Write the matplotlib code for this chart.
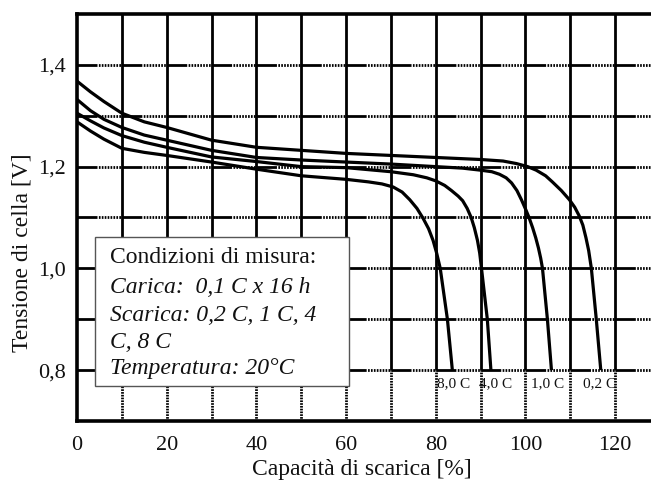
import matplotlib
matplotlib.use("Agg")
import matplotlib.pyplot as plt
from matplotlib.patches import Rectangle

plt.rcParams["font.family"] = ["Liberation Serif", "DejaVu Serif"]
plt.rcParams["lines.scale_dashes"] = False

# discharge curves: capacity [%] -> cell voltage [V]
cap_02 = [0, 3, 6, 10, 15, 20, 30, 40, 50, 60, 70, 80, 90, 95, 98, 100.5, 102.4,
          104.5, 106, 108, 109.8, 111, 112, 112.8, 113.5, 114.1, 114.7, 115.8, 116.8]
volt_02 = [1.368, 1.347, 1.328, 1.305, 1.288, 1.277, 1.252, 1.238, 1.232, 1.226, 1.222,
           1.218, 1.214, 1.211, 1.206, 1.200, 1.193, 1.182, 1.170, 1.153, 1.135, 1.120,
           1.103, 1.085, 1.060, 1.035, 1.000, 0.900, 0.800]

cap_10 = [0, 3, 6, 10, 15, 20, 30, 40, 50, 60, 70, 80, 86, 90, 92.5, 94.2, 95.7,
          96.9, 98.1, 99.1, 100, 100.8, 101.6, 102.3, 102.9, 103.4, 103.8, 104.9, 105.8]
volt_10 = [1.332, 1.310, 1.293, 1.277, 1.262, 1.252, 1.232, 1.218, 1.213, 1.209, 1.205,
           1.200, 1.197, 1.193, 1.190, 1.185, 1.178, 1.168, 1.153, 1.135, 1.117, 1.100,
           1.080, 1.060, 1.040, 1.020, 1.000, 0.900, 0.800]

cap_40 = [0, 3, 6, 10, 15, 20, 30, 40, 50, 60, 70, 75, 78, 80, 82, 83.5, 85,
          86, 87, 87.9, 88.6, 89.3, 89.8, 90.2, 91.5, 92.3]
volt_40 = [1.305, 1.290, 1.276, 1.261, 1.248, 1.238, 1.219, 1.210, 1.200, 1.198, 1.190,
           1.184, 1.178, 1.172, 1.163, 1.153, 1.142, 1.133, 1.118, 1.100, 1.080,
           1.055, 1.030, 1.000, 0.900, 0.800]

cap_80 = [0, 3, 6, 10, 15, 20, 30, 40, 50, 60, 65, 68, 70.5, 72.5, 74.2, 75.8,
          77.2, 78.4, 79.4, 80.2, 81.0, 82.6, 83.7]
volt_80 = [1.288, 1.270, 1.254, 1.236, 1.228, 1.222, 1.209, 1.195, 1.182, 1.175, 1.170,
           1.166, 1.160, 1.150, 1.135, 1.118, 1.098, 1.078, 1.055, 1.030, 1.000, 0.900, 0.800]

curve_labels = ["0,2 C", "1,0 C", "4,0 C", "8,0 C"]
label_x = [116.6, 104.9, 93.4, 83.9]

x_ticks = [0, 20, 40, 60, 80, 100, 120]
y_ticks = [0.8, 1.0, 1.2, 1.4]
y_tick_labels = ["0,8", "1,0", "1,2", "1,4"]
x_grid = [10, 20, 30, 40, 50, 60, 70, 80, 90, 100, 110, 120]
y_grid = [0.8, 0.9, 1.0, 1.1, 1.2, 1.3, 1.4]

box_lines = ["Condizioni di misura:", "Carica:  0,1 C x 16 h", "Scarica: 0,2 C, 1 C, 4",
             "C, 8 C", "Temperatura: 20°C"]

fig = plt.figure(figsize=(6.51, 4.83), dpi=100)
ax = fig.add_axes([0.1183, 0.1284, 0.8817, 0.8426])
ax.set_xlim(0, 128)
ax.set_ylim(0.7, 1.5)

# scanned-looking grid: solid pieces mixed with dotted ones
hdash = [14.4, 1.0] + [1.2, 0.9] * 8
hdash[-1] = 1.0
ax.hlines(y_grid, 0, 128, colors="black", linewidth=2.0,
          linestyles=[(0, hdash)], zorder=1)
ax.vlines(x_grid, 0.8, 1.5, colors="black", linewidth=2.0, zorder=1)
ax.vlines(x_grid, 0.7, 0.8, colors="black", linewidth=2.0,
          linestyles=[(0, (1.2, 0.8))], zorder=1)

for cx, cy in [(cap_02, volt_02), (cap_10, volt_10), (cap_40, volt_40), (cap_80, volt_80)]:
    ax.plot(cx, cy, color="black", lw=2.3, solid_capstyle="butt",
            solid_joinstyle="round", zorder=3)

for lab, lx in zip(curve_labels, label_x):
    ax.text(lx, 0.773, lab, fontsize=11, ha="center", va="center", color="#111111", zorder=2)

ax.set_xticks(x_ticks)
ax.set_yticks(y_ticks)
ax.set_yticklabels(y_tick_labels)
ax.tick_params(axis="both", length=0, labelsize=16, colors="#111111")
ax.tick_params(axis="x", pad=11)
ax.tick_params(axis="y", pad=8)

for side in ["left", "bottom", "top"]:
    ax.spines[side].set_linewidth(2.6)
    ax.spines[side].set_color("black")
ax.spines["right"].set_visible(False)

ax.set_xlabel("Capacità di scarica [%]", fontsize=17, color="#111111")
ax.set_ylabel("Tensione di cella [V]", fontsize=17, color="#111111")
ax.xaxis.set_label_coords(0.497, -0.094)
ax.yaxis.set_label_coords(-0.078, 0.413)

# conditions box
box = Rectangle((0.0314, 0.086), 0.4425, 0.366, transform=ax.transAxes,
                facecolor="white", edgecolor="#555555", lw=1.0, zorder=4)
ax.add_patch(box)
line_y = [0.4005, 0.329, 0.260, 0.194, 0.130]
for i, (txt, ly) in enumerate(zip(box_lines, line_y)):
    ax.text(0.0575, ly, txt, transform=ax.transAxes, fontsize=17,
            style="normal" if i == 0 else "italic", ha="left", va="center",
            color="#111111", zorder=5)

fig.savefig("out.png", dpi=100)
plt.close(fig)
